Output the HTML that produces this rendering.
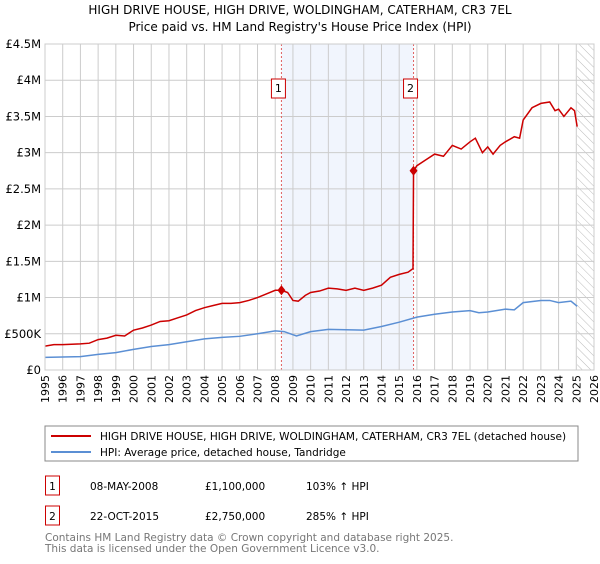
<!DOCTYPE html>
<html><head><meta charset="utf-8"><style>
body{margin:0;background:#fff;font-family:"DejaVu Sans","Liberation Sans",sans-serif;}
svg text{font-family:"DejaVu Sans","Liberation Sans",sans-serif;}
</style></head><body>
<svg id="c" width="600" height="560" viewBox="0 0 600 560" xmlns="http://www.w3.org/2000/svg">
<defs><pattern id="hatch" width="6" height="6" patternUnits="userSpaceOnUse" patternTransform="rotate(-45)"><line x1="0" y1="0" x2="0" y2="6" stroke="#bbb" stroke-width="1"/></pattern></defs>
<text x="300" y="14" text-anchor="middle" font-size="12">HIGH DRIVE HOUSE, HIGH DRIVE, WOLDINGHAM, CATERHAM, CR3 7EL</text>
<text x="300" y="31" text-anchor="middle" font-size="12">Price paid vs. HM Land Registry's House Price Index (HPI)</text>
<g id="plot"></g>
<rect x="45" y="426" width="533" height="35" fill="#fff" stroke="#888"/>
<line x1="51" y1="436" x2="91" y2="436" stroke="#cc0000" stroke-width="2"/>
<text x="100" y="440" font-size="10.5">HIGH DRIVE HOUSE, HIGH DRIVE, WOLDINGHAM, CATERHAM, CR3 7EL (detached house)</text>
<line x1="51" y1="452" x2="91" y2="452" stroke="#5b8fd4" stroke-width="2"/>
<text x="100" y="456" font-size="10.5">HPI: Average price, detached house, Tandridge</text>
<g font-size="10.5">
<rect x="45.5" y="476" width="14" height="19" fill="none" stroke="#cc0000"/>
<text x="52.5" y="490" text-anchor="middle">1</text>
<text x="90" y="490">08-MAY-2008</text><text x="205" y="490">£1,100,000</text><text x="306" y="490">103% ↑ HPI</text>
<rect x="45.5" y="506" width="14" height="19" fill="none" stroke="#cc0000"/>
<text x="52.5" y="520" text-anchor="middle">2</text>
<text x="90" y="520">22-OCT-2015</text><text x="205" y="520">£2,750,000</text><text x="306" y="520">285% ↑ HPI</text>
</g>
<text x="45" y="541" font-size="10.5" fill="#777">Contains HM Land Registry data © Crown copyright and database right 2025.</text>
<text x="45" y="552" font-size="10.5" fill="#777">This data is licensed under the Open Government Licence v3.0.</text>
</svg>
<script>
const redX=[1995,1995.5,1996,1997,1997.5,1998,1998.5,1999,1999.5,2000,2000.5,2001,2001.5,2002,2002.5,2003,2003.5,2004,2004.5,2005,2005.5,2006,2006.5,2007,2007.5,2008,2008.35,2008.7,2009,2009.3,2009.7,2010,2010.5,2011,2011.5,2012,2012.5,2013,2013.5,2014,2014.5,2015,2015.5,2015.78,2015.81,2016,2016.5,2017,2017.5,2018,2018.5,2019,2019.3,2019.7,2020,2020.3,2020.7,2021,2021.5,2021.8,2022,2022.5,2023,2023.5,2023.8,2024,2024.3,2024.7,2024.9,2025.05];
const redY=[0.33,0.35,0.35,0.36,0.37,0.42,0.44,0.48,0.47,0.55,0.58,0.62,0.67,0.68,0.72,0.76,0.82,0.86,0.89,0.92,0.92,0.93,0.96,1.0,1.05,1.1,1.1,1.07,0.96,0.95,1.03,1.07,1.09,1.13,1.12,1.1,1.13,1.1,1.13,1.17,1.28,1.32,1.35,1.4,2.75,2.82,2.9,2.98,2.95,3.1,3.05,3.15,3.2,3.0,3.08,2.98,3.1,3.15,3.22,3.2,3.45,3.62,3.68,3.7,3.58,3.6,3.5,3.62,3.58,3.36];
const hpiX=[1995,1997,1998,1999,2000,2001,2002,2003,2004,2005,2006,2007,2008,2008.5,2009.2,2010,2011,2012,2013,2014,2015,2016,2017,2018,2019,2019.5,2020,2021,2021.5,2022,2023,2023.5,2024,2024.7,2025.05];
const hpiY=[0.175,0.185,0.215,0.24,0.285,0.325,0.35,0.39,0.43,0.45,0.465,0.5,0.54,0.53,0.47,0.53,0.56,0.555,0.55,0.6,0.66,0.73,0.77,0.8,0.82,0.79,0.8,0.84,0.83,0.93,0.96,0.96,0.93,0.95,0.88];
const yTicks=[0,0.5,1,1.5,2,2.5,3,3.5,4,4.5];
const yLabels=["£0","£500K","£1M","£1.5M","£2M","£2.5M","£3M","£3.5M","£4M","£4.5M"];
const sales=[2008.35,2015.81];
const saleVals=[1.1,2.75];
const X0=45,X1=594,Y0=370,Y1=44;
const sx=v=>X0+(v-1995)/31*(X1-X0);
const sy=v=>Y0-v/4.5*(Y0-Y1);
const NS="http://www.w3.org/2000/svg";
const g=document.getElementById('plot');
function mk(t,a){const e=document.createElementNS(NS,t);for(const k in a)e.setAttribute(k,a[k]);g.appendChild(e);return e;}
let e=mk('rect',{x:sx(sales[0]),y:Y1,width:sx(sales[1])-sx(sales[0]),height:Y0-Y1,fill:'#eef3fc',opacity:0.8});


e=mk('rect',{x:sx(2025.05),y:Y1,width:X1-sx(2025.05),height:Y0-Y1,fill:'url(#hatch)'});


for(let yr=1995;yr<=2026;yr++){
 e=mk('line',{x1:sx(yr),x2:sx(yr),y1:Y1,y2:Y0,stroke:'#ccc','stroke-width':1});
 
 
 e=mk('text',{x:0,y:0,'font-size':11,'text-anchor':'end',transform:`translate(${sx(yr)+4},${Y0+5}) rotate(-90)`});
 e.textContent=yr;
 
 
}
yTicks.forEach((t,i)=>{
 e=mk('line',{x1:X0,x2:X1,y1:sy(t),y2:sy(t),stroke:'#ccc','stroke-width':1});
 
 
 e=mk('text',{x:X0-4,y:sy(t)+4,'font-size':11.5,'text-anchor':'end'});
 e.textContent=yLabels[i];
 
 
});
sales.forEach((s,i)=>{
 e=mk('line',{x1:sx(s),x2:sx(s),y1:Y1,y2:Y0,stroke:'#e06060','stroke-width':1,'stroke-dasharray':'2,2'});
 
 
 e=mk('rect',{x:sx(s)-10,y:79,width:14,height:19,fill:'#fff',stroke:'#cc0000'});
 
 
 e=mk('text',{x:sx(s)-3,y:92,'font-size':11,'text-anchor':'middle'});
 e.textContent=i+1;
 
 
});
e=mk('polyline',{points:hpiX.map((x,i)=>sx(x)+','+sy(hpiY[i])).join(' '),fill:'none',stroke:'#5b8fd4','stroke-width':1.5});


e=mk('polyline',{points:redX.map((x,i)=>sx(x)+','+sy(redY[i])).join(' '),fill:'none',stroke:'#cc0000','stroke-width':1.5});


sales.forEach((s,i)=>{
 const cx=sx(s),cy=sy(saleVals[i]);
 e=mk('polygon',{points:`${cx},${cy-5} ${cx+4},${cy} ${cx},${cy+5} ${cx-4},${cy}`,fill:'#cc0000'});
 
 
});
e=mk('rect',{x:X0,y:Y1,width:X1-X0,height:Y0-Y1,fill:'none',stroke:'#ccc'});


</script>
</body></html>
